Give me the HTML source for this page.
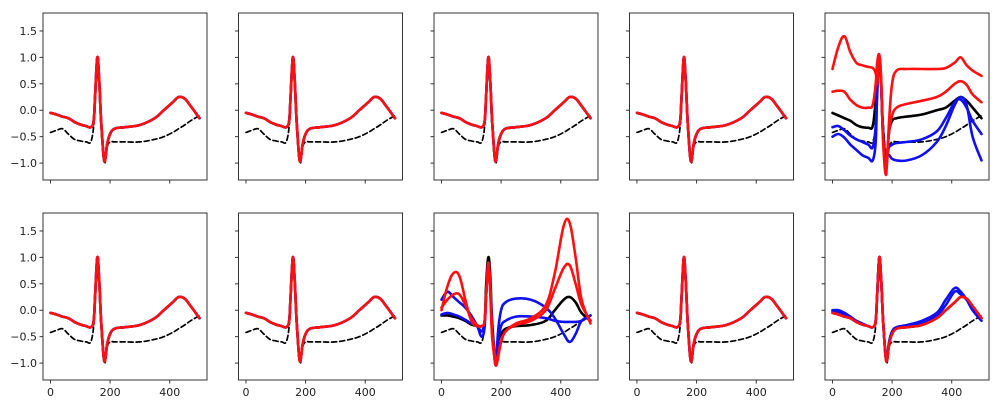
<!DOCTYPE html>
<html><head><meta charset="utf-8"><style>
body{margin:0;background:#fff;width:1000px;height:408px;overflow:hidden}
svg text{font-family:"DejaVu Sans","Liberation Sans",sans-serif;font-size:11px;fill:#222}
</style></head><body>
<svg id="fig" width="1000" height="408"></svg>
<script>
const xs=[0,20,40,60,80,100,120,135,145,150,157,163,170,178,183,190,200,215,250,300,350,380,410,430,450,470,500];
const baseEcg=[-0.05,-0.08,-0.12,-0.15,-0.22,-0.27,-0.3,-0.32,-0.2,0.3,1.0,0.6,-0.2,-0.85,-0.95,-0.65,-0.45,-0.35,-0.32,-0.28,-0.15,0.0,0.15,0.25,0.22,0.08,-0.15];
const dashedRef=[-0.42,-0.38,-0.35,-0.45,-0.55,-0.58,-0.6,-0.6,-0.3,0.2,1.0,0.6,-0.2,-0.85,-1.0,-0.7,-0.6,-0.6,-0.6,-0.6,-0.55,-0.5,-0.42,-0.35,-0.28,-0.2,-0.1];
const p5Red1=[0.78,1.2,1.4,1.1,0.9,0.85,0.82,0.8,0.7,0.5,1.0,0.6,-0.6,-1.2,-1.0,-0.2,0.5,0.75,0.78,0.78,0.78,0.8,0.9,1.0,0.85,0.75,0.65];
const p5Red2=[0.35,0.37,0.35,0.2,0.1,0.05,0.05,0.1,0.5,0.9,1.05,0.6,-0.5,-1.1,-0.9,-0.4,-0.1,0.05,0.12,0.18,0.25,0.35,0.5,0.55,0.48,0.3,0.15];
const p5Black=[-0.05,-0.1,-0.15,-0.2,-0.28,-0.32,-0.33,-0.3,0.2,0.7,1.0,0.5,-0.4,-0.9,-0.85,-0.4,-0.2,-0.15,-0.12,-0.08,0.0,0.05,0.18,0.25,0.18,0.05,-0.15];
const p5Blue1=[-0.32,-0.3,-0.38,-0.48,-0.55,-0.6,-0.65,-0.7,-0.3,0.4,1.0,0.5,-0.5,-0.9,-0.8,-0.7,-0.65,-0.62,-0.6,-0.55,-0.4,-0.15,0.15,0.2,0.05,-0.2,-0.45];
const p5Blue2=[-0.5,-0.45,-0.52,-0.65,-0.75,-0.85,-0.9,-0.95,-0.6,0.3,1.0,0.5,-0.5,-0.9,-0.85,-0.85,-0.92,-0.95,-0.95,-0.85,-0.6,-0.3,0.1,0.25,0.1,-0.5,-0.95];
const p8Black=[-0.1,-0.1,-0.12,-0.15,-0.2,-0.27,-0.3,-0.3,-0.2,0.5,1.0,0.7,-0.2,-0.8,-0.95,-0.6,-0.45,-0.35,-0.3,-0.28,-0.2,0.0,0.2,0.25,0.15,-0.05,-0.2];
const p8Blue1=[0.2,0.35,0.25,0.15,0.05,-0.1,-0.3,-0.5,-0.3,0.3,0.8,0.5,-0.4,-0.9,-1.0,-0.4,0.0,0.15,0.22,0.2,0.05,-0.15,-0.45,-0.6,-0.45,-0.2,-0.1];
const p8Blue2=[-0.08,-0.05,-0.08,-0.12,-0.18,-0.25,-0.3,-0.4,-0.2,0.3,0.9,0.5,-0.3,-0.9,-1.0,-0.6,-0.3,-0.2,-0.12,-0.12,-0.15,-0.2,-0.22,-0.22,-0.22,-0.2,-0.1];
const p8Red1=[0.0,0.45,0.7,0.65,0.2,-0.2,-0.3,-0.3,-0.2,0.3,0.9,0.4,-0.5,-0.9,-1.05,-0.9,-0.6,-0.4,-0.25,-0.15,0.1,0.7,1.6,1.65,1.0,0.2,-0.25];
const p8Red2=[0.05,0.2,0.3,0.3,0.1,-0.15,-0.28,-0.3,-0.2,0.3,0.85,0.5,-0.4,-0.8,-0.95,-0.85,-0.6,-0.4,-0.28,-0.2,0.0,0.4,0.8,0.85,0.5,0.1,-0.2];
const p10Blue1=[0.0,0.0,-0.05,-0.12,-0.2,-0.25,-0.3,-0.32,-0.2,0.3,1.0,0.6,-0.2,-0.85,-0.9,-0.6,-0.4,-0.32,-0.28,-0.2,-0.05,0.2,0.42,0.35,0.2,0.0,-0.2];
const p10Blue2=[-0.02,-0.03,-0.08,-0.15,-0.22,-0.27,-0.3,-0.32,-0.2,0.3,1.0,0.6,-0.2,-0.85,-0.92,-0.62,-0.42,-0.33,-0.3,-0.25,-0.1,0.1,0.35,0.3,0.2,0.05,-0.15];
const yTicks=[1.5,1.0,0.5,0.0,-0.5,-1.0];
const yTickLabels=["1.5","1.0","0.5","0.0","\u22120.5","\u22121.0"];
const xTicks=[0,200,400];
const xTickLabels=["0","200","400"];

const panels=[
 [["d",dashedRef],["k",baseEcg],["b",baseEcg],["r",baseEcg]],
 [["d",dashedRef],["k",baseEcg],["b",baseEcg],["r",baseEcg]],
 [["d",dashedRef],["k",baseEcg],["b",baseEcg],["r",baseEcg]],
 [["d",dashedRef],["k",baseEcg],["b",baseEcg],["r",baseEcg]],
 [["d",dashedRef],["k",p5Black],["b",p5Blue1],["b",p5Blue2],["r",p5Red1],["r",p5Red2]],
 [["d",dashedRef],["k",baseEcg],["b",baseEcg],["r",baseEcg]],
 [["d",dashedRef],["k",baseEcg],["b",baseEcg],["r",baseEcg]],
 [["d",dashedRef],["k",p8Black],["b",p8Blue1],["b",p8Blue2],["r",p8Red1],["r",p8Red2]],
 [["d",dashedRef],["k",baseEcg],["b",baseEcg],["r",baseEcg]],
 [["d",dashedRef],["k",baseEcg],["b",p10Blue1],["b",p10Blue2],["r",baseEcg]]
];
const NS="http://www.w3.org/2000/svg";
const svg=document.getElementById('fig');
const lefts=[43,238.5,434,629.5,825],tops=[13,213],W=164,H=167;
const xmin=-25,xmax=525,ymin=-1.32,ymax=1.84;
function mk(t,a,p){const e=document.createElementNS(NS,t);for(const k in a)e.setAttribute(k,a[k]);(p||svg).appendChild(e);return e;}
function path(pts){let d="M"+pts[0][0].toFixed(1)+","+pts[0][1].toFixed(1);
 for(let i=0;i<pts.length-1;i++){const p0=pts[Math.max(0,i-1)],p1=pts[i],p2=pts[i+1],p3=pts[Math.min(pts.length-1,i+2)];
 const t=0.18;const c1=[p1[0]+(p2[0]-p0[0])*t,p1[1]+(p2[1]-p0[1])*t],c2=[p2[0]-(p3[0]-p1[0])*t,p2[1]-(p3[1]-p1[1])*t];
 d+=" C"+c1[0].toFixed(1)+","+c1[1].toFixed(1)+" "+c2[0].toFixed(1)+","+c2[1].toFixed(1)+" "+p2[0].toFixed(1)+","+p2[1].toFixed(1);}
 return d;}
const styles={d:{stroke:"#000","stroke-width":1.7,"stroke-dasharray":"5,3"},k:{stroke:"#000","stroke-width":2.6},b:{stroke:"#1010ee","stroke-width":2.6},r:{stroke:"#ff1010","stroke-width":2.6}};
const names={d:"reference-dashed",k:"black-series",b:"blue-series",r:"red-series"};
panels.forEach((series,pi)=>{
 const row=Math.floor(pi/5),col=pi%5,L=lefts[col],T=tops[row];
 const sx=v=>L+(v-xmin)/(xmax-xmin)*W, sy=v=>T+(ymax-v)/(ymax-ymin)*H;
 const g=mk('g',{});
 
 
 const cid='c'+pi;
 const cp=mk('clipPath',{id:cid},g);mk('rect',{x:L,y:T,width:W,height:H},cp);
 const lines=mk('g',{'clip-path':'url(#'+cid+')'},g);
 series.forEach(([s,arr])=>{
  const pts=xs.map((x,i)=>[sx(x),sy(arr[i])]);
  const p=mk('path',Object.assign({d:path(pts),fill:"none","stroke-linejoin":"round","stroke-linecap":"round"},styles[s]),lines);
  
  
 });
 const fr=mk('rect',{x:L,y:T,width:W,height:H,fill:"none",stroke:"#333","stroke-width":1},g);
 
 
 yTicks.forEach((v,i)=>{const y=sy(v);mk('line',{x1:L-3.5,x2:L,y1:y,y2:y,stroke:"#333"},g);
  if(col===0){const t=mk('text',{x:L-6,y:y+4,'text-anchor':'end'},g);t.textContent=yTickLabels[i];
   
   }});
 xTicks.forEach((v,i)=>{const x=sx(v);mk('line',{x1:x,x2:x,y1:T+H,y2:T+H+3.5,stroke:"#333"},g);
  if(row===1){const t=mk('text',{x:x,y:T+H+16,'text-anchor':'middle'},g);t.textContent=xTickLabels[i];
   
   }});
});
</script>
</body></html>
